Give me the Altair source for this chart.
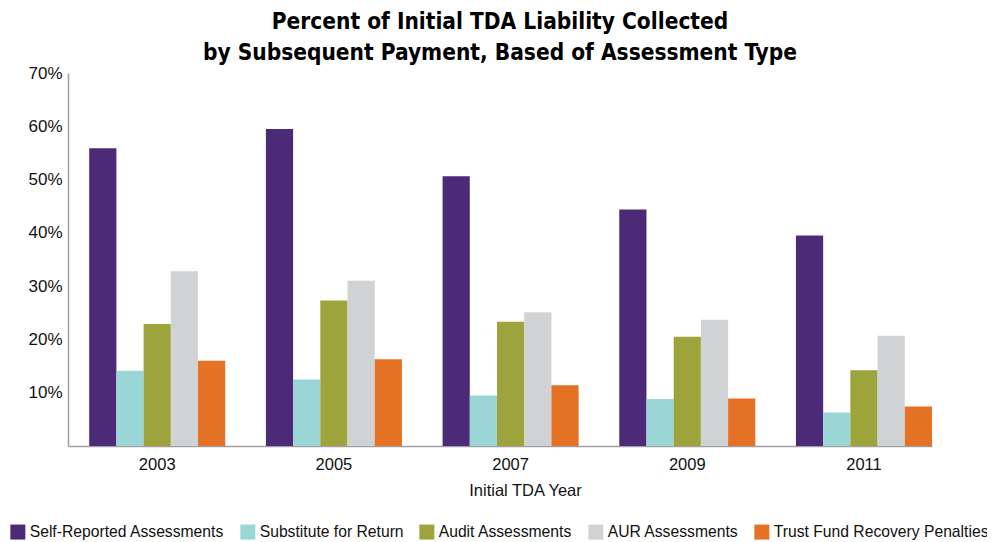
import altair as alt
import pandas as pd

years = ["2003", "2005", "2007", "2009", "2011"]
series = ["Self-Reported Assessments", "Substitute for Return", "Audit Assessments",
          "AUR Assessments", "Trust Fund Recovery Penalties"]
colors = ["#4d2a78", "#9bd6d6", "#9da43b", "#d1d2d4", "#e57125"]

self_reported = [55.9, 59.5, 50.6, 44.4, 39.5]
substitute = [14.1, 12.5, 9.5, 8.8, 6.3]
audit = [22.9, 27.3, 23.3, 20.5, 14.2]
aur = [32.8, 31.0, 25.1, 23.7, 20.7]
trust_fund = [16.0, 16.3, 11.4, 8.9, 7.4]

values = [self_reported, substitute, audit, aur, trust_fund]
rows = []
for s, vals in zip(series, values):
    for y, v in zip(years, vals):
        rows.append({"year": y, "series": s, "value": v})
df = pd.DataFrame(rows)

label_font = "Liberation Sans"
title_font = "Liberation Sans Narrow, DejaVu Sans Condensed, sans-serif"

chart = alt.Chart(df).mark_bar().encode(
    x=alt.X("year:N", sort=years,
            scale=alt.Scale(paddingInner=0.23, paddingOuter=0.06, align=1),
            axis=alt.Axis(title="Initial TDA Year", labelAngle=0, ticks=False,
                          labelPadding=10, titlePadding=10, titleX=457,
                          domainColor="#a0a0a0", domainWidth=1.5,
                          labelFontSize=16.5, titleFontSize=16.5,
                          labelFont=label_font, titleFont=label_font,
                          labelColor="#111", titleColor="#111", titleFontWeight="normal")),
    xOffset=alt.XOffset("series:N", sort=series,
                        scale=alt.Scale(paddingInner=0, paddingOuter=0)),
    y=alt.Y("value:Q",
            scale=alt.Scale(domain=[0, 70], nice=False),
            axis=alt.Axis(title=None, values=[10, 20, 30, 40, 50, 60, 70],
                          labelExpr="datum.value + '%'", ticks=False, grid=False,
                          labelPadding=6, domainColor="#a0a0a0", domainWidth=1.5,
                          labelFontSize=17, labelFont=label_font, labelColor="#111")),
    color=alt.Color("series:N", sort=series,
                    scale=alt.Scale(domain=series, range=colors),
                    legend=alt.Legend(title=None, orient="none", direction="horizontal",
                                      legendX=-58, legendY=451, columns=5,
                                      symbolType="square", symbolSize=225,
                                      symbolStrokeWidth=0, labelOffset=4,
                                      columnPadding=15, labelFontSize=15.7,
                                      labelFont=label_font, labelColor="#111",
                                      labelLimit=400)),
).properties(
    width=864,
    height=373,
    title=alt.TitleParams(
        text=["Percent of Initial TDA Liability Collected",
              "by Subsequent Payment, Based of Assessment Type"],
        font=title_font, fontSize=22.5, fontWeight="bold", color="#000",
        anchor="middle", lineHeight=31, offset=0),
    padding={"left": 60, "top": 65, "right": 55, "bottom": 96},
    autosize=alt.AutoSizeParams(type="none"),
).configure_view(stroke=None)

chart.save("out.html", embed_options={"renderer": "svg", "actions": False})
